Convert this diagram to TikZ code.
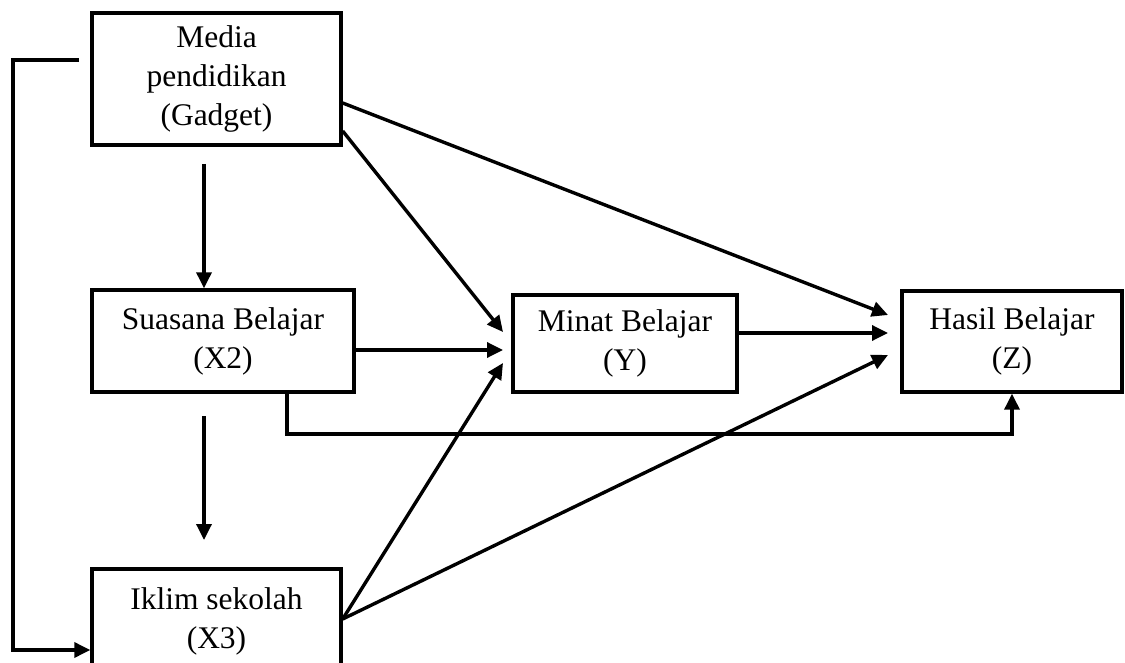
\documentclass[tikz,border=0pt]{standalone}
\usepackage{fontspec}
\setmainfont{Liberation Serif}
\usetikzlibrary{arrows.meta,calc}
\begin{document}
\begin{tikzpicture}[x=1pt,y=-1pt,
  box/.style={draw,line width=3.4pt,inner sep=0pt,align=center,
    font=\fontsize{31.5}{39}\selectfont},
  conn/.style={line width=3.4pt,-{Triangle[length=16pt,width=15pt]}},
  plain/.style={line width=3.4pt}]
\useasboundingbox (0,0) rectangle (1125,663);
\clip (0,0) rectangle (1125,663);
\node[box,minimum width=249pt,minimum height=132pt] (media) at (216.5,79) {Media\\pendidikan\\(Gadget)};
\node[box,minimum width=262pt,minimum height=102pt] (sua) at (223,341) {Suasana Belajar\\(X2)};
\node[box,minimum width=249pt,minimum height=104pt] (ikl) at (216.5,621) {Iklim sekolah\\(X3)};
\node[box,minimum width=224pt,minimum height=97pt] (minat) at (625,343.5) {Minat Belajar\\(Y)};
\node[box,minimum width=220pt,minimum height=101pt] (hasil) at (1012,341.5) {Hasil Belajar\\(Z)};
% endpoints
\coordinate (mA) at (media.east |- 0,103);
\coordinate (mB) at (media.east |- 0,131);
\coordinate (iA) at (ikl.east |- 0,619);
\coordinate (mnA) at (503,332);
\coordinate (mnB) at (503,350);
\coordinate (mnC) at (503,363);
\coordinate (hA) at (888,315);
\coordinate (hB) at (888,333);
\coordinate (hC) at (888,355);
\coordinate (d1) at (204,164);
\coordinate (d2) at (204,416);
\coordinate (d2e) at (204,540);
\coordinate (fb1) at (79,60);
\coordinate (fb2) at (13,60);
\coordinate (fb3) at (13,650);
\coordinate (sb) at (287,434);
% connectors
\draw[conn] (d1) -- (d1 |- sua.north);
\draw[conn] (d2) -- (d2e);
\draw[conn] (fb1) -- (fb2) -- (fb3) -- (fb3 -| ikl.west);
\draw[conn] (mB) -- (mnA);
\draw[conn] (mA) -- (hA);
\draw[conn] (sua.east |- mnB) -- (mnB);
\draw[conn] (iA) -- (mnC);
\draw[conn] (iA) -- (hC);
\draw[conn] (minat.east |- hB) -- (hB);
\draw[conn] (sb |- sua.south) -- (sb) -- (sb -| hasil.south) -- (hasil.south);
\end{tikzpicture}
\end{document}
